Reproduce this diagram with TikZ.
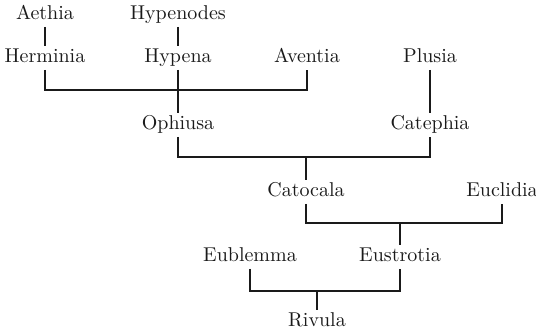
\documentclass[tikz,border=0pt]{standalone}
\usepackage{tikz}
\usetikzlibrary{positioning}
\definecolor{ink}{HTML}{1A1A1A}
\tikzset{
  taxon/.style   ={font=\normalsize, text=ink, inner sep=1.5pt,
                   text height=6.5pt, text depth=2pt},
  treeline/.style={draw=ink, line width=0.55pt},
}

\begin{document}
\begin{tikzpicture}[x=0.5pt,y=-0.5pt]
    \useasboundingbox (0,0) rectangle (536,332);
    \node[taxon] (aethia)    at (45,15)   {Aethia};
    \node[taxon] (hypenodes) at (178,15)  {Hypenodes};
    \node[taxon] (herminia)  at (45,58)   {Herminia};
    \node[taxon] (hypena)    at (178,58)  {Hypena};
    \node[taxon] (aventia)   at (307,58)  {Aventia};
    \node[taxon] (plusia)    at (430,58)  {Plusia};
    \node[taxon] (ophiusa)   at (178,125) {Ophiusa};
    \node[taxon] (catephia)  at (430,125) {Catephia};
    \node[taxon] (catocala)  at (306,192) {Catocala};
    \node[taxon] (euclidia)  at (502,192) {Euclidia};
    \node[taxon] (eublemma)  at (250,257) {Eublemma};
    \node[taxon] (eustrotia) at (400,257) {Eustrotia};
    \node[taxon] (rivula)    at (317,322) {Rivula};

    \coordinate (j1) at (178,90);
    \coordinate (j2) at (306,157);
    \coordinate (j3) at (400,223);
    \coordinate (j4) at (317,291);

    \draw[treeline] (aethia.south) -- (herminia.north);
    \draw[treeline] (hypenodes.south) -- (hypena.north);
    \draw[treeline] (herminia.south) |- (j1) -| (aventia.south);
    \draw[treeline] (hypena.south) -- (ophiusa.north);
    \draw[treeline] (plusia.south) -- (catephia.north);
    \draw[treeline] (ophiusa.south) |- (j2) -| (catephia.south);
    \draw[treeline] (j2) -- (catocala.north);
    \draw[treeline] (catocala.south) |- (j3) -| (euclidia.south);
    \draw[treeline] (j3) -- (eustrotia.north);
    \draw[treeline] (eublemma.south) |- (j4) -| (eustrotia.south);
    \draw[treeline] (j4) -- (rivula.north);
\end{tikzpicture}
\end{document}
